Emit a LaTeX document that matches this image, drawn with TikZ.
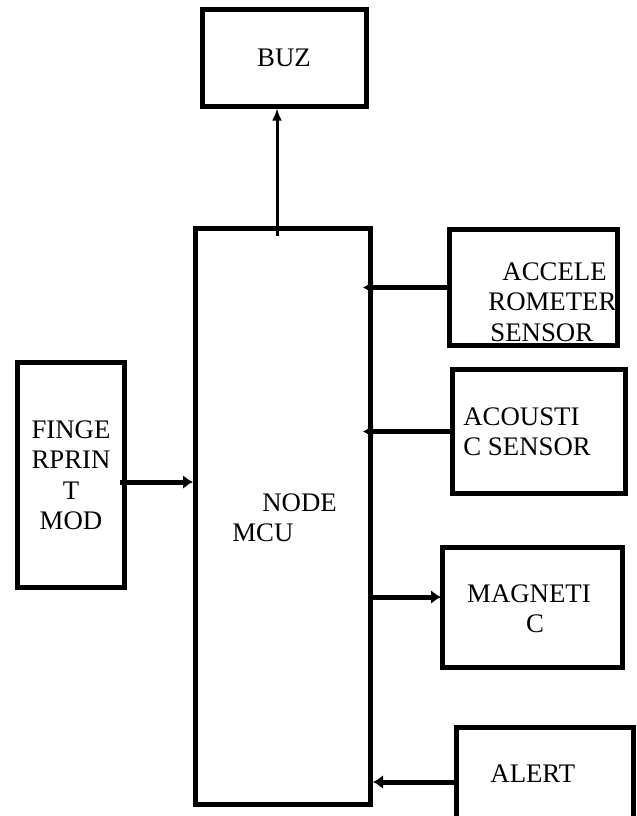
\documentclass[tikz,border=0pt]{standalone}
\usepackage{fontspec}
\setmainfont{Liberation Serif}
\usetikzlibrary{positioning,arrows.meta}

\begin{document}
\begin{tikzpicture}[x=0.5pt, y=-0.5pt,
    every node/.style={font=\fontsize{13.4}{15.3}\selectfont},
    box/.style={draw, line width=2.5pt, inner sep=0pt},
    txt/.style={inner sep=0pt, anchor=north west, align=left},
    arr/.style={-{Latex[length=5pt, width=7pt]}, line width=2.5pt},
    thinarr/.style={-{Latex[length=6pt, width=5pt]}, line width=1.5pt}]
  \useasboundingbox (0,0) rectangle (637,816);
  % blocks
  \node[box, minimum width=82pt,   minimum height=48.5pt]  (buz)  at (284,57.5)   {BUZ};
  \node[box, minimum width=87.5pt, minimum height=288pt]   (mcu)  at (283,516.5)  {};
  \node[box, minimum width=84pt,   minimum height=58pt]    (acc)  at (533.5,287.5) {};
  \node[box, minimum width=86.5pt, minimum height=62pt]    (aco)  at (539,431.5)  {};
  \node[box, minimum width=90pt,   minimum height=60pt]    (mag)  at (532.5,607.5) {};
  \node[box, minimum width=88.5pt, minimum height=51.25pt] (alrt) at (545,778.75) {};
  \node[box, minimum width=53.5pt, minimum height=112.5pt] (fp)   at (71,475)     {};
  % texts
  \node[txt] (mcuT) at (232,493) {\hspace{15pt}NODE\\MCU};
  \node[txt] (accT) at (488,262) {\hspace{7pt}ACCELE\\ROMETER\\\hspace{1pt}SENSOR};
  \node[txt] (acoT) at (463,407) {ACOUSTI\\C SENSOR};
  \node[txt, anchor=north, align=center] (magT) at (529,584) {MAGNETI\\\hspace{6pt}C};
  \node[txt] (alrtT) at (490,764) {ALERT};
  \node[txt, anchor=north, align=center] (fpT) at (71,420) {FINGE\\RPRIN\\T\\MOD};
  % connectors
  \coordinate (buzIn) at (277,236);
  \coordinate (magIn) at (441,597);
  \coordinate (fpOut) at (120,482);
  \coordinate (alIn)  at (455,782);
  \draw[thinarr] (buzIn) -- (buzIn |- buz.south);
  \draw[arr, shorten >=-5pt] (acc.west) -- (acc.west -| mcu.east);
  \draw[arr, shorten >=-5pt] (aco.west) -- (aco.west -| mcu.east);
  \draw[arr] (magIn -| mcu.east) -- (magIn);
  \draw[arr] (alIn) -- (alIn -| mcu.east);
  \draw[arr] (fpOut) -- (fpOut -| mcu.west);
\end{tikzpicture}
\end{document}
